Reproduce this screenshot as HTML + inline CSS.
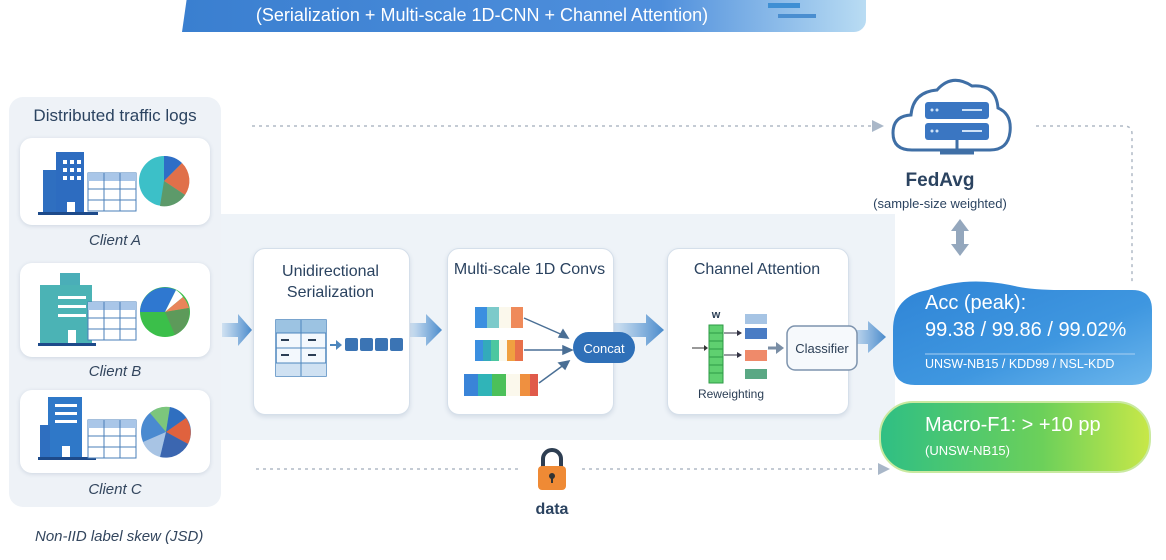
<!DOCTYPE html>
<html><head><meta charset="utf-8"><style>
body{margin:0;width:1166px;height:560px;background:#fff;position:relative;overflow:hidden;font-family:"Liberation Sans",sans-serif;color:#2a3f5a}
.a{position:absolute}
.card{position:absolute;background:#fff;border-radius:12px;box-shadow:0 1px 4px rgba(60,90,130,.18)}
.box{position:absolute;background:#fff;border:1px solid #d5dfea;border-radius:12px;box-shadow:0 2px 5px rgba(60,90,130,.15)}
.t{position:absolute;text-align:center;color:#2b4360}
.cl{position:absolute;width:210px;text-align:center;font-style:italic;font-size:15px;color:#33465e}
</style></head><body>
<!-- banner -->
<div class="a" style="left:182px;top:-10px;width:684px;height:42px;background:linear-gradient(90deg,#3a7fd0,#4f8fdc 70%,#b9dcf3);border-radius:0 0 12px 0;clip-path:polygon(6px 0,100% 0,100% 100%,0 100%)"></div>
<div class="t" style="left:182px;top:5px;width:600px;font-size:18px;color:#fff">(Serialization + Multi-scale 1D-CNN + Channel Attention)</div>
<div class="a" style="left:768px;top:3px;width:32px;height:5px;background:#3e8fd4"></div>
<div class="a" style="left:778px;top:14px;width:38px;height:4px;background:#4a8ed0"></div>
<!-- middle band -->
<div class="a" style="left:215px;top:214px;width:680px;height:226px;background:#eef3f8"></div>
<!-- left panel -->
<div class="a" style="left:9px;top:97px;width:212px;height:410px;background:#eef2f7;border-radius:14px"></div>
<div class="t" style="left:9px;top:106px;width:212px;font-size:17px">Distributed traffic logs</div>
<div class="card" style="left:20px;top:138px;width:190px;height:87px"></div>
<div class="card" style="left:20px;top:263px;width:190px;height:94px"></div>
<div class="card" style="left:20px;top:390px;width:190px;height:83px"></div>
<div class="cl" style="left:10px;top:232px">Client A</div>
<div class="cl" style="left:10px;top:363px">Client B</div>
<div class="cl" style="left:10px;top:481px">Client C</div>
<div class="a" style="left:35px;top:528px;font-style:italic;font-size:15px;color:#33465e">Non-IID label skew (JSD)</div>
<svg class="a" style="left:0;top:0" width="1166" height="560">
<defs><linearGradient id="ar" x1="0" x2="1"><stop offset="0" stop-color="#5b9ad6" stop-opacity=".2"/><stop offset="1" stop-color="#4a8acb"/></linearGradient></defs>
<!-- buildings A -->
<g>
<rect x="43" y="170" width="14" height="42" fill="#2f6fc0"/><rect x="56" y="152" width="28" height="60" fill="#2d6cc0"/>
<rect x="38" y="212" width="60" height="3" fill="#1d4a8a"/>
<g fill="#fff"><rect x="63" y="160" width="4" height="4"/><rect x="70" y="160" width="4" height="4"/><rect x="77" y="160" width="4" height="4"/><rect x="63" y="168" width="4" height="4"/><rect x="70" y="168" width="4" height="4"/><rect x="77" y="168" width="4" height="4"/><rect x="63" y="176" width="4" height="4"/><rect x="70" y="176" width="4" height="4"/><rect x="77" y="176" width="4" height="4"/><rect x="67" y="202" width="8" height="10"/></g>
<rect x="88" y="173" width="48" height="38" fill="#fff" stroke="#4a7fb8"/><rect x="88" y="173" width="48" height="8" fill="#a9c6e8"/>
<path d="M104 173v38M120 173v38M88 189h48M88 200h48" stroke="#4a7fb8"/>
<circle cx="164" cy="181" r="25" fill="#3cc0c8"/><path d="M164 181 L164 156 A25 25 0 0 1 182 163z" fill="#2e6ec6"/><path d="M164 181 L182 163 A25 25 0 0 1 185 195z" fill="#e0704a"/><path d="M164 181 L185 195 A25 25 0 0 1 160 206z" fill="#5d9a6a"/>
</g>
<!-- B -->
<g>
<rect x="60" y="273" width="20" height="12" fill="#4aaeb8"/><rect x="40" y="285" width="52" height="58" fill="#4bb3b5"/><rect x="38" y="343" width="58" height="3" fill="#1d4a8a"/>
<g fill="#fff"><rect x="58" y="296" width="28" height="3"/><rect x="58" y="305" width="28" height="3"/><rect x="58" y="314" width="28" height="3"/><rect x="68" y="330" width="8" height="13"/></g>
<rect x="88" y="302" width="48" height="38" fill="#fff" stroke="#4a7fb8"/><rect x="88" y="302" width="48" height="8" fill="#a9c6e8"/>
<path d="M104 302v38M120 302v38M88 318h48M88 329h48" stroke="#4a7fb8"/>
<circle cx="165" cy="312" r="25" fill="#3bbf4a"/><path d="M165 312 L176 290 A25 25 0 0 0 140 312z" fill="#2f78d0"/><path d="M165 312 L176 290 A25 25 0 0 1 183 297z" fill="#fff"/><path d="M165 312 L183 297 A25 25 0 0 1 189 308z" fill="#e8855a"/><path d="M165 312 L189 308 A25 25 0 0 1 175 335z" fill="#5d9a5a"/>
</g>
<!-- C -->
<g>
<rect x="48" y="397" width="34" height="60" fill="#2f78c8"/><rect x="40" y="425" width="10" height="32" fill="#2f6fc0"/><rect x="38" y="457" width="58" height="3" fill="#1d4a8a"/>
<g fill="#fff"><rect x="55" y="404" width="22" height="3"/><rect x="55" y="412" width="22" height="3"/><rect x="55" y="420" width="22" height="3"/><rect x="62" y="446" width="8" height="11"/></g>
<rect x="88" y="420" width="48" height="38" fill="#fff" stroke="#4a7fb8"/><rect x="88" y="420" width="48" height="8" fill="#a9c6e8"/>
<path d="M104 420v38M120 420v38M88 436h48M88 447h48" stroke="#4a7fb8"/>
<circle cx="166" cy="432" r="25" fill="#4a8ad0"/><path d="M166 432 L150 413 A25 25 0 0 1 170 407z" fill="#7cc67c"/><path d="M166 432 L170 407 A25 25 0 0 1 186 418z" fill="#2f6fc0"/><path d="M166 432 L186 418 A25 25 0 0 1 188 444z" fill="#e0623e"/><path d="M166 432 L188 444 A25 25 0 0 1 160 457z" fill="#3b66b0"/><path d="M166 432 L160 457 A25 25 0 0 1 143 442z" fill="#a8c4e4"/>
</g>
<!-- dotted lines -->
<path d="M252 126 H875" stroke="#b0bac6" stroke-width="1.5" stroke-dasharray="3 4"/><path d="M872 120 L884 126 L872 132z" fill="#a9b7c8"/>
<path d="M1036 126 H1124 Q1132 126 1132 134 V284" stroke="#b0bac6" stroke-width="1.5" stroke-dasharray="3 4" fill="none"/>
<path d="M256 469 H520 M582 469 H876" stroke="#b0bac6" stroke-width="1.5" stroke-dasharray="3 4"/><path d="M878 463 L890 469 L878 475z" fill="#a9b7c8"/>
<!-- big arrows -->
<g fill="url(#ar)">
<path d="M222 323 H238 V314 L252 330 L238 346 V337 H222z"/>
<path d="M410 323 H426 V314 L442 330 L426 346 V337 H410z"/>
<path d="M614 323 H646 V314 L664 330 L646 346 V337 H614z"/>
<path d="M850 330 H868 V321 L886 337 L868 353 V344 H850z"/>
</g>
<!-- lock -->
<path d="M543 468 V459 A9 9 0 0 1 561 459 V468" stroke="#2e3e52" stroke-width="4" fill="none"/>
<rect x="538" y="466" width="28" height="24" rx="4" fill="#ef8a35"/><circle cx="552" cy="476" r="3" fill="#333"/><rect x="551" y="477" width="2" height="6" fill="#333"/>
<!-- cloud -->
<path d="M912 150 Q893 150 893 133 Q893 116 911 115 Q913 92 937 90 Q952 73 972 86 Q996 84 998 108 Q1012 114 1010 132 Q1008 150 990 150z" fill="#fff" stroke="#3f6fa6" stroke-width="3"/>
<rect x="925" y="102" width="64" height="17" rx="3" fill="#3a76c2"/><rect x="925" y="123" width="64" height="17" rx="3" fill="#3a76c2"/>
<g fill="#cfe2f7"><circle cx="932" cy="110" r="1.5"/><circle cx="937" cy="110" r="1.5"/><circle cx="932" cy="131" r="1.5"/><circle cx="937" cy="131" r="1.5"/><rect x="962" y="109" width="20" height="2"/><rect x="962" y="130" width="20" height="2"/></g>
<path d="M957 140 V152 M940 153 H974" stroke="#3f6fa6" stroke-width="3"/>
<!-- double arrow -->
<path d="M960 219 L969 231 H964 V244 H969 L960 256 L951 244 H956 V231 H951z" fill="#94a7bd"/>
<defs><linearGradient id="bl" x1="0" x2="1" y1="0" y2="1"><stop offset="0" stop-color="#2f84d6"/><stop offset=".6" stop-color="#3f97e0"/><stop offset="1" stop-color="#6cb6ec"/></linearGradient>
<linearGradient id="gr" x1="0" x2="1"><stop offset="0" stop-color="#2fbf84"/><stop offset=".6" stop-color="#6cd05a"/><stop offset="1" stop-color="#c8e848"/></linearGradient></defs>
<path d="M893 330 Q893 296 928 290 Q965 276 1010 285 Q1030 290 1060 290 L1132 290 Q1152 290 1152 310 V366 Q1152 385 1132 385 H915 Q893 385 893 362z" fill="url(#bl)"/>
<path d="M925 354 H1135" stroke="#a9d0f3" stroke-width="1"/>
<rect x="880" y="402" width="270" height="70" rx="33" fill="url(#gr)" stroke="#c9e9a0" stroke-width="2"/>
</svg>
<!-- boxes -->
<div class="box" style="left:253px;top:248px;width:155px;height:165px"></div>
<div class="t" style="left:253px;top:261px;width:155px;font-size:16px;line-height:21px">Unidirectional<br>Serialization</div>
<div class="box" style="left:447px;top:248px;width:165px;height:165px"></div>
<div class="t" style="left:447px;top:261px;width:165px;font-size:16px">Multi-scale 1D Convs</div>
<div class="box" style="left:667px;top:248px;width:180px;height:165px"></div>
<div class="t" style="left:667px;top:261px;width:180px;font-size:16px">Channel Attention</div>
<svg class="a" style="left:0;top:0" width="1166" height="560">
<rect x="276" y="320" width="50" height="56" fill="#f3f8fd" stroke="#4d86bd" stroke-width="1.5"/><rect x="276" y="320" width="50" height="13" fill="#9cc3e2"/><rect x="276" y="363" width="50" height="13" fill="#cfe1f2"/>
<path d="M301 320v56M276 333h50M276 348h50M276 363h50" stroke="#4d86bd"/>
<path d="M281 340h8M308 340h8M281 355h8M308 355h8" stroke="#2b3e55" stroke-width="2"/>
<path d="M330 345h8" stroke="#4d86bd" stroke-width="2"/><path d="M336 340l6 5-6 5z" fill="#4d86bd"/>
<g fill="#3b74b4"><rect x="345" y="338" width="13" height="13" rx="2"/><rect x="360" y="338" width="13" height="13" rx="2"/><rect x="375" y="338" width="13" height="13" rx="2"/><rect x="390" y="338" width="13" height="13" rx="2"/></g>
<rect x="475" y="307" width="12" height="21" fill="#3b8fe0"/><rect x="487" y="307" width="12" height="21" fill="#7ccaca"/><rect x="499" y="307" width="12" height="21" fill="#fbf8ec"/><rect x="511" y="307" width="12" height="21" fill="#ef8a5a"/>
<rect x="475" y="340" width="48" height="21" fill="#3ab"/><rect x="475" y="340" width="8" height="21" fill="#3b8fe0"/><rect x="491" y="340" width="8" height="21" fill="#4bc7a0"/><rect x="499" y="340" width="8" height="21" fill="#fbf8ec"/><rect x="507" y="340" width="8" height="21" fill="#f0a040"/><rect x="515" y="340" width="8" height="21" fill="#e8704a"/>
<rect x="464" y="374" width="14" height="22" fill="#3a84d8"/><rect x="478" y="374" width="14" height="22" fill="#30b4b8"/><rect x="492" y="374" width="14" height="22" fill="#4cc05a"/><rect x="506" y="374" width="14" height="22" fill="#fbf8ec"/><rect x="520" y="374" width="10" height="22" fill="#ef9040"/><rect x="530" y="374" width="8" height="22" fill="#e05a4a"/>
<g stroke="#4a6f95" stroke-width="1.5" fill="#4a6f95"><path d="M524 318 L565 336"/><path d="M524 350 L565 350"/><path d="M539 383 L565 364"/><path d="M568 338l-9 -1 4 -7z"/><path d="M572 350l-9 -4v8z"/><path d="M569 361l-4 8 -6 -6z"/></g>
<rect x="573" y="332" width="62" height="31" rx="15.5" fill="#2f70b8"/>
<text x="604" y="353" text-anchor="middle" font-size="13" fill="#fff" font-family="Liberation Sans">Concat</text>
<text x="716" y="318" text-anchor="middle" font-size="11" font-weight="bold" fill="#2b3e55" font-family="Liberation Sans">w</text>
<path d="M692 348h12" stroke="#333"/><path d="M704 345l4 3-4 3z" fill="#333"/>
<rect x="709" y="325" width="14" height="58" fill="#5fd070" stroke="#2e9a46"/><path d="M709 333h14M709 341h14M709 349h14M709 357h14M709 365h14M709 373h14" stroke="#2e9a46"/>
<path d="M724 333h14M724 355h14" stroke="#334"/><path d="M737 330l5 3-5 3zM737 352l5 3-5 3z" fill="#334"/>
<rect x="745" y="314" width="22" height="10" fill="#a6c4e4"/><rect x="745" y="328" width="22" height="11" fill="#4a7cc4"/><rect x="745" y="350" width="22" height="11" fill="#ef8a6a"/><rect x="745" y="369" width="22" height="10" fill="#5aa884"/>
<path d="M768 348h10" stroke="#7a8ea5" stroke-width="3"/><path d="M776 342l8 6-8 6z" fill="#7a8ea5"/>
<rect x="787" y="326" width="70" height="44" rx="8" fill="#f6f9fc" stroke="#7d93ad" stroke-width="1.5"/>
<text x="822" y="353" text-anchor="middle" font-size="13" fill="#2b3e55" font-family="Liberation Sans">Classifier</text>
<text x="731" y="398" text-anchor="middle" font-size="12" fill="#2b3e55" font-family="Liberation Sans">Reweighting</text>
</svg>
<div class="t" style="left:860px;top:170px;width:160px;font-size:19px;font-weight:bold">FedAvg</div>
<div class="t" style="left:860px;top:196px;width:160px;font-size:13px">(sample-size weighted)</div>
<div class="a" style="left:925px;top:292px;font-size:20px;color:#fff">Acc (peak):</div>
<div class="a" style="left:925px;top:319px;font-size:20px;color:#fff">99.38 / 99.86 / 99.02%</div>
<div class="a" style="left:925px;top:357px;font-size:12.5px;color:#fff">UNSW-NB15 / KDD99 / NSL-KDD</div>
<div class="a" style="left:925px;top:414px;font-size:20px;color:#fff">Macro-F1: &gt; +10 pp</div>
<div class="a" style="left:925px;top:443px;font-size:13px;color:#fff">(UNSW-NB15)</div>
<div class="t" style="left:522px;top:501px;width:60px;font-size:16px;font-weight:bold">data</div>
</body></html>
